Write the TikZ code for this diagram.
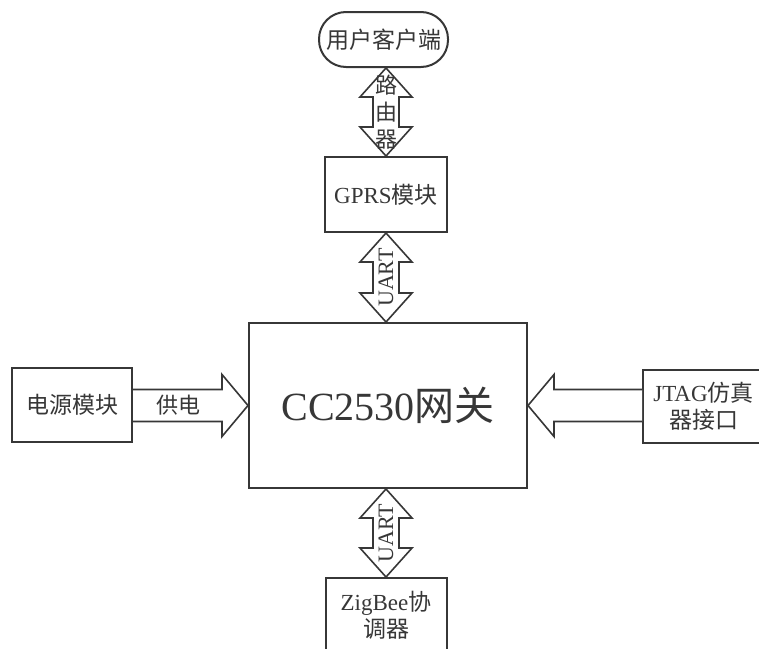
\documentclass[tikz,border=0pt]{standalone}
\usepackage{fontspec}
\setmainfont{Liberation Serif}
\newfontfamily\cjk{Noto Sans CJK SC}
\usetikzlibrary{calc}
\definecolor{edge}{RGB}{55, 55, 55}

% vertical double arrow between two points, label in the middle
\newcommand{\vbiarrow}[4]{%
  \draw[fat] (#1) -- ($(#1)+(-26,29)$) -- ($(#1)+(-13,29)$) -- ($(#2)+(-13,-29)$)
    -- ($(#2)+(-26,-29)$) -- (#2) -- ($(#2)+(26,-29)$) -- ($(#2)+(13,-29)$)
    -- ($(#1)+(13,29)$) -- ($(#1)+(26,29)$) -- cycle;
  \node[lbl, #3] at ($(#1)!0.5!(#2)$) {#4};}

\begin{document}
\begin{tikzpicture}[x=1pt, y=-1pt,
  box/.style={draw=edge, text=edge, line width=2, inner sep=0, align=center,
    font=\fontsize{23}{27}\selectfont},
  fat/.style={draw=edge, line width=1.6, fill=white, line join=miter},
  lbl/.style={inner sep=0, text=edge, align=center,
    font=\fontsize{22}{27}\selectfont}]

  \useasboundingbox (0, 0) rectangle (759, 648);

  \node[box, minimum width=129, minimum height=55, rounded corners=27]
    (user) at (383.5, 39.5) {\cjk 用户客户端};
  \node[box, minimum width=122, minimum height=75]
    (gprs) at (386, 194.5) {GPRS{\cjk 模块}};
  \node[box, minimum width=278, minimum height=165,
    font=\fontsize{40}{44}\selectfont]
    (gw) at (388, 405.5) {CC2530{\cjk 网关}};
  \node[box, minimum width=120, minimum height=74]
    (power) at (72, 405) {\cjk 电源模块};
  \node[box, minimum width=121, minimum height=73]
    (jtag) at (703.5, 406.5) {JTAG{\cjk 仿真}\\{\cjk 器接口}};
  \node[box, minimum width=121, minimum height=75]
    (zigbee) at (386, 615.5) {ZigBee{\cjk 协}\\{\cjk 调器}};

  \coordinate (r1) at (gprs.north |- user.south);
  \coordinate (r2) at (gprs.north);
  \coordinate (u1) at (gprs.south);
  \coordinate (u2) at (gprs.south |- gw.north);
  \coordinate (u3) at (zigbee.north |- gw.south);
  \coordinate (u4) at (zigbee.north);
  \coordinate (p1) at (power.east |- gw.west);
  \coordinate (j1) at (jtag.west |- gw.east);

  \vbiarrow{r1}{r2}{}{\cjk 路\\\cjk 由\\\cjk 器}
  \vbiarrow{u1}{u2}{rotate=90}{UART}
  \vbiarrow{u3}{u4}{rotate=90}{UART}

  % supply arrow
  \draw[fat] ($(p1)+(0,-16)$) -- ($(gw.west)+(-26,-16)$)
    -- ($(gw.west)+(-26,-31)$) -- (gw.west) -- ($(gw.west)+(-26,31)$)
    -- ($(gw.west)+(-26,16)$) -- ($(p1)+(0,16)$);
  \node[lbl] (supply) at ($(p1)!0.5!(gw.west)+(-12,0)$) {\cjk 供电};

  % debug arrow
  \draw[fat] ($(j1)+(0,-16)$) -- ($(gw.east)+(26,-16)$)
    -- ($(gw.east)+(26,-31)$) -- (gw.east) -- ($(gw.east)+(26,31)$)
    -- ($(gw.east)+(26,16)$) -- ($(j1)+(0,16)$);

\end{tikzpicture}
\end{document}
